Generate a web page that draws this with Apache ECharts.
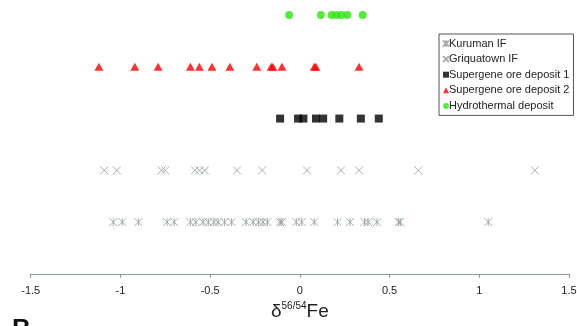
<!DOCTYPE html>
<html>
<head>
<meta charset="utf-8">
<script src="https://cdn.jsdelivr.net/npm/echarts@6/dist/echarts.min.js"></script>
<style>
  html, body { margin: 0; padding: 0; background: #fff; }
  #chart { width: 577px; height: 326px; }
</style>
</head>
<body>
<div id="chart"></div>
<script>
// δ56/54Fe values per group
const kuruman = [-1.04, -0.99, -0.9, -0.74, -0.7, -0.61, -0.58, -0.54, -0.51, -0.48, -0.455,
  -0.42, -0.38, -0.3, -0.26, -0.23, -0.205, -0.18, -0.11, -0.1, -0.02, 0.01, 0.08, 0.21,
  0.28, 0.36, 0.38, 0.43, 0.55, 0.56, 1.05];
const griquatown = [-1.09, -1.02, -0.77, -0.75, -0.585, -0.56, -0.53, -0.35, -0.21, 0.04,
  0.23, 0.33, 0.66, 1.31];
const supergene1 = [-0.11, -0.01, 0.02, 0.09, 0.13, 0.22, 0.34, 0.44];
const supergene2 = [-1.12, -0.92, -0.79, -0.61, -0.56, -0.49, -0.39, -0.24, -0.16, -0.15,
  -0.1, 0.08, 0.09, 0.33];
const hydrothermal = [-0.06, 0.117, 0.177, 0.205, 0.232, 0.264, 0.35];

const groupNames = ["Kuruman IF", "Griquatown IF", "Supergene ore deposit 1",
  "Supergene ore deposit 2", "Hydrothermal deposit"];
const groupRows = [1, 2, 3, 4, 5];

const grey = "#8e9b9b";
const ASTERISK = "path://M0,0L10,10M10,0L0,10M5,0L5,10";
const CROSS = "path://M0,0L10,10M10,0L0,10";

const toPoints = (vals, row) => vals.map((v) => [v, row]);

const chart = echarts.init(document.getElementById("chart"));

const option = {
  animation: false,
  textStyle: { fontFamily: "Liberation Sans, Arial, sans-serif" },
  grid: { left: 30.7, right: 8, top: 0, bottom: 49, outerBoundsMode: "none" },
  legend: {
    orient: "vertical",
    left: 439,
    top: 34,
    padding: [4, 4, 4, 3],
    itemGap: 4.6,
    itemWidth: 6,
    itemHeight: 6,
    borderColor: "#555",
    borderWidth: 1,
    borderRadius: 0,
    textStyle: { fontSize: 11, color: "#222", padding: [0, 0, 0, -5] },
    data: groupNames,
  },
  xAxis: {
    type: "value",
    min: -1.5,
    max: 1.5,
    interval: 0.5,
    splitLine: { show: false },
    axisLine: { lineStyle: { color: "#8a9999", width: 1 } },
    axisTick: { length: 4, lineStyle: { color: "#8a9999" } },
    axisLabel: { fontSize: 11, color: "#222", margin: 8 },
    name: "{a|δ}{s|56/54}{a|Fe}",
    nameLocation: "middle",
    nameGap: 22,
    nameTextStyle: {
      rich: {
        a: { fontSize: 19, color: "#222", lineHeight: 22 },
        s: { fontSize: 10, color: "#222", verticalAlign: "top", lineHeight: 22 },
      },
    },
  },
  yAxis: { type: "value", min: -0.06, max: 5.29, show: false },
  graphic: [
    {
      type: "text",
      left: 12,
      top: 317,
      style: { text: "B", fontSize: 26, fontWeight: "bold", fill: "#111",
        fontFamily: "Liberation Sans, Arial" },
    },
  ],
  series: [
    {
      name: groupNames[0],
      type: "scatter",
      symbol: ASTERISK,
      symbolSize: 8,
      itemStyle: { color: "transparent", borderColor: grey, borderWidth: 1 },
      data: toPoints(kuruman, groupRows[0]),
    },
    {
      name: groupNames[1],
      type: "scatter",
      symbol: CROSS,
      symbolSize: 8,
      itemStyle: { color: "transparent", borderColor: grey, borderWidth: 1 },
      data: toPoints(griquatown, groupRows[1]),
    },
    {
      name: groupNames[2],
      type: "scatter",
      symbol: "rect",
      symbolSize: 8,
      itemStyle: { color: "#000" },
      data: toPoints(supergene1, groupRows[2]),
    },
    {
      name: groupNames[3],
      type: "scatter",
      symbol: "triangle",
      symbolSize: [9, 8],
      itemStyle: { color: "#ff0000" },
      data: toPoints(supergene2, groupRows[3]),
    },
    {
      name: groupNames[4],
      type: "scatter",
      symbol: "circle",
      symbolSize: 8,
      itemStyle: { color: "#2ee410" },
      data: toPoints(hydrothermal, groupRows[4]),
    },
  ],
};

chart.setOption(option);
</script>
</body>
</html>
